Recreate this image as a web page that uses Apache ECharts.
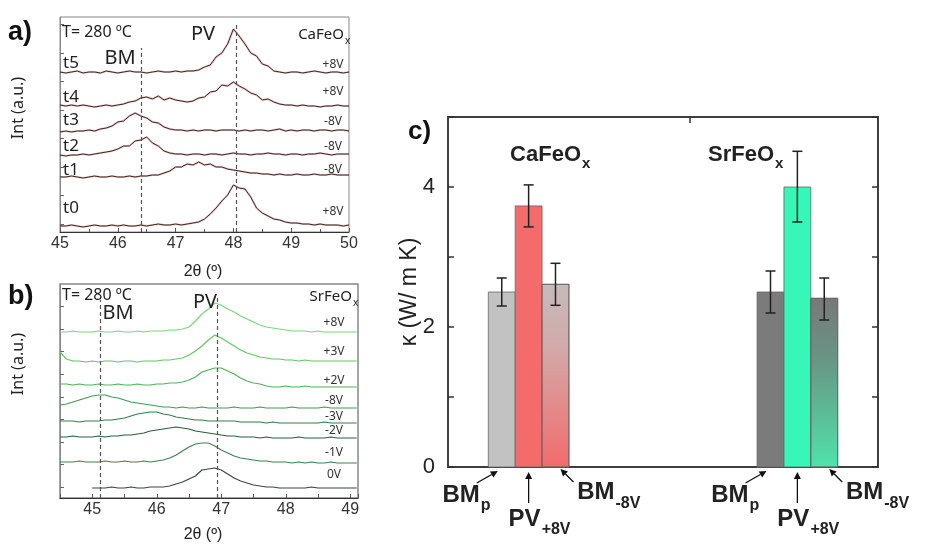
<!DOCTYPE html>
<html><head><meta charset="utf-8">
<script src="https://cdn.jsdelivr.net/npm/echarts@6/dist/echarts.min.js"></script>
<style>html,body{margin:0;padding:0;background:#fff}#c{width:943px;height:546px}</style>
</head><body><div id="c"></div><script>
// ---------- Panel a: CaFeOx XRD traces (heights in arbitrary units) ----------
const thetaA = [45.0,45.1,45.2,45.3,45.4,45.5,45.6,45.7,45.8,45.9,46.0,46.1,46.2,46.3,46.4,46.5,46.6,46.7,46.8,46.9,47.0,47.1,47.2,47.3,47.4,47.5,47.6,47.7,47.8,47.9,48.0,48.1,48.2,48.3,48.4,48.5,48.6,48.7,48.8,48.9,49.0,49.1,49.2,49.3,49.4,49.5,49.6,49.7,49.8,49.9,50.0];
const caT5 = [160,159,160,161,159,160,160,159,161,160, 159,160,161,160,160,159,160,161,160,160, 161,160,161,161,162,165,167,175,179,188, 203,196,188,179,176,168,166,161,160,159, 160,160,159,160,161,160,159,160,160,159,160];
const caT4 = [127,126,127,126,127,126,125,126,127,126, 127,128,130,131,134,135,133,136,132,134, 132,131,130,131,134,135,140,141,147,146, 150,146,143,139,137,132,133,130,128,127, 127,126,127,126,126,125,126,126,127,126,126];
const caT3 = [100,101,100,101,101,102,101,103,104,106, 110,111,116,119,116,114,110,109,105,103, 102,102,101,102,101,102,102,101,102,102, 102,101,102,101,102,102,101,102,103,101, 102,101,102,102,101,102,102,101,102,102,101];
const caT2 = [77,76,77,77,78,77,78,79,80,81, 83,86,86,91,92,95,89,86,81,79, 78,78,77,78,78,77,78,78,77,78, 79,78,78,77,78,78,79,78,78,77, 78,78,77,78,78,79,78,77,78,78,78];
const caT1 = [55,55,56,55,54,55,56,55,55,56, 55,55,56,55,56,56,57,57,59,61, 65,65,68,67,70,67,68,65,65,63, 62,61,60,59,59,58,58,57,58,57, 57,58,57,57,58,57,57,58,57,57,57];
const caT0 = [6,6,7,6,5,6,7,6,6,7, 6,7,6,6,7,6,7,8,7,7, 8,7,8,9,10,13,18,24,31,37, 47,44,43,35,24,19,16,13,12,10, 9,9,8,8,7,8,7,7,7,6,7];
const labelsA = ['t5','t4','t3','t2','t1','t0'];
const biasA = ['+8V','+8V','-8V','-8V','-8V','+8V'];
const peaksA = [46.4, 48.05];   // BM, PV reference lines
const ticksA = [8,36.5,65,93.5,122,150.5,179,207.5];

// ---------- Panel b: SrFeOx XRD traces ----------
const thetaB = [44.5,44.6,44.7,44.8,44.9,45.0,45.1,45.2,45.3,45.4,45.5,45.6,45.7,45.8,45.9,46.0,46.1,46.2,46.3,46.4,46.5,46.6,46.7,46.8,46.9,47.0,47.1,47.2,47.3,47.4,47.5,47.6,47.7,47.8,47.9,48.0,48.1,48.2,48.3,48.4,48.5,48.6,48.7,48.8,48.9,49.0,49.1];
const srP8 = [166,166,167,166,166, 166,167,166,166,167,166,166,167,166,167, 167,167,168,168,169,171,177,184,189,195, 193,189,186,182,179,176,173,171,170,169, 168,167,167,167,166,167,166,166,166,166, 166,166];
const srP3 = [146,139,137,137,136, 137,136,137,137,136,137,137,136,137,137, 137,138,138,139,140,143,147,152,158,163, 160,156,152,148,145,143,141,140,139,139, 138,138,137,138,137,137,137,137,137,137, 137,137];
const srP2 = [114,114,113,114,113, 113,114,113,113,114,113,113,114,113,113, 114,114,115,115,116,118,121,126,128,130, 130,127,124,120,117,115,114,112,111,111, 112,111,111,112,111,111,111,111,111,111, 111,111];
const srM8 = [93,94,96,98,100, 102,103,103,101,100,98,96,95,94,93, 92,91,91,90,91,90,90,91,90,90, 90,90,91,90,90,90,91,90,90,90, 90,91,90,90,90,90,91,90,90,90, 90,90];
const srM3 = [77,77,77,76,77, 77,77,78,78,79,80,82,84,85,86, 86,84,83,81,80,79,78,78,77,77, 77,77,77,76,76,76,76,75,76,75, 75,75,75,75,75,75,76,75,75,75, 75,75];
const srM2 = [61,61,62,61,61, 61,62,61,62,62,63,63,64,65,67, 68,69,70,71,70,69,67,66,65,64, 63,62,62,61,61,61,60,61,60,60, 60,60,61,60,60,60,60,61,60,60, 60,60];
const srM1 = [36,36,36,37,36, 36,36,37,36,36,37,36,36,37,36, 37,38,40,43,47,51,54,55,55,52, 48,45,42,40,39,38,37,37,36,36, 36,35,36,35,36,35,35,36,35,35, 35,35];
const sr0V = [null,null,null,null,null, 10,10,10,11,10,10,11,10,10,11, 11,11,12,14,16,19,22,28,29,30, 28,24,20,17,15,13,12,11,11,10, 10,10,10,10,11,10,10,10,10,10, 10,10];
const biasB = ['+8V','+3V','+2V','-8V','-3V','-2V','-1V','0V'];
const peaksB = [45.12, 46.94];
const ticksB = [11,34,56,79,101,124,147,169,192];

// ---------- Panel c: thermal conductivity ----------
const phases = ['BMp','PV+8V','BM-8V'];
const materials = ['CaFeOx','SrFeOx'];
const kappaCa = [2.5, 3.73, 2.61];
const kappaCaLow = [2.3, 3.43, 2.31];
const kappaCaHigh = [2.7, 4.03, 2.91];
const kappaSr = [2.5, 4.0, 2.41];
const kappaSrLow = [2.2, 3.5, 2.1];
const kappaSrHigh = [2.8, 4.51, 2.7];

// layout / styles
const slotsCa = [2,3,4], slotsSr = [12,13,14];
const LG = (stops) => new echarts.graphic.LinearGradient(0,0,0,1,stops.map(s=>({offset:s[0],color:s[1]})));
const fillsCa = ['#c2c2c2', '#f46b6b', LG([[0,'#c6baba'],[0.35,'#d3a9a9'],[1,'#f46b6b']])];
const fillsSr = ['#7b7b7b', '#36f6b8', LG([[0,'#787878'],[0.35,'#699484'],[1,'#4fe3aa']])];
const colorsB = ['#7ad67a','#62c862','#4fb359','#3f9c4f','#357f47','#2c5e3c','#3d8350','#36483c'];
const FF = 'Liberation Sans';
const FN = 'Noto Sans';

function lineSeries(g, xs, ys, color, width, z) {
  return {type:'line', xAxisIndex:g, yAxisIndex:g, data: xs.map((x,i)=>[x, ys[i]]), symbol:'none',
    showSymbol:false, lineStyle:{color, width}, itemStyle:{color}, silent:true, z, connectNulls:false, animation:false};
}
function vlineMark(list, tops) {
  return {silent:true, symbol:'none', label:{show:false}, animation:false,
    lineStyle:{type:[4,3], color:'#555', width:1.2},
    data: list.map((x,i)=>[{coord:[x,0]},{coord:[x,tops[i]]}])};
}

const series = [];
const tracesA = [caT5, caT4, caT3, caT2, caT1, caT0];
tracesA.forEach((t,i)=>{
  series.push(lineSeries(0, thetaA, t, 'rgba(190,70,70,0.3)', 2.2, 2));
  const s = lineSeries(0, thetaA, t, '#3c2626', 1, 3);
  if (i===0) s.markLine = vlineMark(peaksA, [184, 210]);
  series.push(s);
});
const tracesB = [srP8, srP3, srP2, srM8, srM3, srM2, srM1, sr0V];
tracesB.forEach((t,i)=>{
  const s = lineSeries(1, thetaB, t, colorsB[i], 1.2, 3);
  if (i===0) s.markLine = vlineMark(peaksB, [198, 200]);
  series.push(s);
});

// bars
const barData = [];
kappaCa.forEach((v,i)=>barData.push([slotsCa[i], v, 0, i]));
kappaSr.forEach((v,i)=>barData.push([slotsSr[i], v, 1, i]));
const errData = [];
kappaCa.forEach((v,i)=>errData.push([slotsCa[i], kappaCaLow[i], kappaCaHigh[i]]));
kappaSr.forEach((v,i)=>errData.push([slotsSr[i], kappaSrLow[i], kappaSrHigh[i]]));

series.push({type:'custom', xAxisIndex:2, yAxisIndex:2, data:barData, silent:true, z:3,
  renderItem:(p, api)=>{
    const x=api.value(0), y=api.value(1), m=api.value(2), k=api.value(3);
    const a=api.coord([x-0.5,y]), b=api.coord([x+0.5,0]);
    return {type:'rect', shape:{x:a[0], y:a[1], width:b[0]-a[0], height:b[1]-a[1]},
      style:{fill:(m===0?fillsCa:fillsSr)[k], stroke:'#666', lineWidth:0.8}};
  }});
series.push({type:'custom', xAxisIndex:2, yAxisIndex:2, data:errData, silent:true, z:5,
  renderItem:(p, api)=>{
    const lo=api.coord([api.value(0), api.value(1)]), hi=api.coord([api.value(0), api.value(2)]);
    const st={stroke:'#222', lineWidth:1.5}, w=5;
    return {type:'group', children:[
      {type:'line', shape:{x1:lo[0],y1:lo[1],x2:hi[0],y2:hi[1]}, style:st},
      {type:'line', shape:{x1:lo[0]-w,y1:lo[1],x2:lo[0]+w,y2:lo[1]}, style:st},
      {type:'line', shape:{x1:hi[0]-w,y1:hi[1],x2:hi[0]+w,y2:hi[1]}, style:st}]};
  }});

const axLbl = {fontSize:16, color:'#333', fontFamily:FF};
const option = {
  animation:false,
  grid:[
    {left:60, top:17, width:289, height:215, show:true, borderColor:'#888', borderWidth:1},
    {left:60, top:284, width:298, height:214, show:true, borderColor:'#888', borderWidth:1.5},
    {left:448, top:117, width:430, height:350, show:true, borderColor:'#333', borderWidth:1.5}
  ],
  xAxis:[
    {gridIndex:0, type:'value', min:45, max:50, interval:1, axisLine:{onZero:false, lineStyle:{color:'#333'}},
      axisTick:{inside:true, length:4, lineStyle:{color:'#555'}}, minorTick:{show:true, splitNumber:2, length:3, lineStyle:{color:'#555'}},
      axisLabel:Object.assign({margin:4}, axLbl), splitLine:{show:false}},
    {gridIndex:1, type:'value', min:44.5, max:49.12, interval:0.5, axisLine:{onZero:false, lineStyle:{color:'#333'}},
      axisTick:{inside:true, length:4, lineStyle:{color:'#555'}},
      axisLabel:Object.assign({margin:4, formatter:v=>Math.abs(v-Math.round(v))<1e-6?String(Math.round(v)):''}, axLbl), splitLine:{show:false}},
    {gridIndex:2, type:'value', min:0, max:16, axisLine:{onZero:false, lineStyle:{color:'#333', width:1.5}}, axisTick:{show:false}, axisLabel:{show:false}, splitLine:{show:false}},
    {gridIndex:2, type:'value', position:'top', min:0, max:16, axisLine:{onZero:false, lineStyle:{color:'#333', width:1.5}},
      axisTick:{inside:true, length:6, customValues:[9], lineStyle:{color:'#333', width:1.5}}, axisLabel:{show:false}, splitLine:{show:false}}
  ],
  yAxis:[
    {gridIndex:0, type:'value', min:0, max:215, axisLine:{show:true, onZero:false, lineStyle:{color:'#888'}},
      axisTick:{show:true, inside:true, length:4, customValues:ticksA, lineStyle:{color:'#666'}}, axisLabel:{show:false}, splitLine:{show:false}},
    {gridIndex:1, type:'value', min:0, max:214, axisLine:{show:true, onZero:false, lineStyle:{color:'#888'}},
      axisTick:{show:true, inside:true, length:4, customValues:ticksB, lineStyle:{color:'#666'}}, axisLabel:{show:false}, splitLine:{show:false}},
    {gridIndex:2, type:'value', min:0, max:5, interval:1, axisLine:{show:true, onZero:false, lineStyle:{color:'#333', width:1.5}},
      axisTick:{inside:true, length:6, lineStyle:{color:'#333', width:1.5}},
      axisLabel:{margin:13, fontSize:22, color:'#222', fontFamily:FF, formatter:v=>(v%2===0 && v<5)?String(v):''}, splitLine:{show:false}},
    {gridIndex:2, type:'value', position:'right', min:0, max:5, interval:1, axisLine:{show:true, onZero:false, lineStyle:{color:'#333', width:1.5}},
      axisTick:{inside:true, length:6, lineStyle:{color:'#333', width:1.5}}, axisLabel:{show:false}, splitLine:{show:false}}
  ],
  series
};

const chart = echarts.init(document.getElementById('c'));
chart.setOption(option);

function T(x, y, text, size, o) {
  o = o || {};
  const el = {type:'text', x, y, z:50, silent:true,
    style:{text, fontSize:size, fontFamily:o.ff||FN, fontWeight:o.fw||'normal', fill:o.fill||'#222',
      textAlign:o.align||'center', textVerticalAlign:'middle'}};
  if (o.rot) el.rotation = o.rot;
  return el;
}
function arrow(x1,y1,x2,y2){
  const ang=Math.atan2(y2-y1,x2-x1), L=7, W=3.5;
  const bx=x2-L*Math.cos(ang), by=y2-L*Math.sin(ang), px=-Math.sin(ang)*W, py=Math.cos(ang)*W;
  return [{type:'line', z:50, silent:true, shape:{x1,y1,x2:bx,y2:by}, style:{stroke:'#111', lineWidth:1.3}},
          {type:'polygon', z:50, silent:true, shape:{points:[[x2,y2],[bx+px,by+py],[bx-px,by-py]]}, style:{fill:'#111'}}];
}

const g = [];
// panel a
g.push(T(8, 33, 'a)', 27, {ff:FF, fw:'bold', align:'left', fill:'#111'}));
g.push(T(62, 32, 'T= 280 ºC', 16, {align:'left'}));
g.push(T(203, 34, 'PV', 20));
g.push(T(120, 58, 'BM', 20));
g.push(T(344, 35, 'CaFeO', 15, {align:'right'}));
g.push(T(345, 41, 'x', 10, {align:'left'}));
const tY = [63, 97, 120, 146, 170, 208];
labelsA.forEach((l,i)=>g.push(T(63, tY[i], l, 17, {align:'left'})));
const bY = [65, 92, 122, 147, 170, 212];
biasA.forEach((l,i)=>g.push(T(333, bY[i], l, 12, {fill:'#333'})));
g.push(T(18, 108, 'Int (a.u.)', 16, {rot:Math.PI/2}));
g.push(T(203, 272, '2θ (º)', 16, {ff:FF}));
// panel b
g.push(T(8, 297, 'b)', 27, {ff:FF, fw:'bold', align:'left', fill:'#111'}));
g.push(T(62, 295, 'T= 280 ºC', 16, {align:'left'}));
g.push(T(205, 302, 'PV', 20));
g.push(T(118, 313, 'BM', 20));
g.push(T(352, 297, 'SrFeO', 15, {align:'right'}));
g.push(T(353, 303, 'x', 10, {align:'left'}));
const bYB = [323, 352, 381, 401, 417, 431, 453, 475];
biasB.forEach((l,i)=>g.push(T(334, bYB[i], l, 12, {fill:'#333'})));
g.push(T(18, 364, 'Int (a.u.)', 16, {rot:Math.PI/2}));
g.push(T(203, 535, '2θ (º)', 16, {ff:FF}));
// panel c
g.push(T(408, 132, 'c)', 26, {ff:FF, fw:'bold', align:'left', fill:'#111'}));
g.push(T(410, 292, 'κ (W/ m K)', 23, {ff:FF, rot:Math.PI/2}));
g.push(T(581, 155, 'CaFeO', 22, {ff:FF, fw:'bold', align:'right'}));
g.push(T(582, 164, 'x', 15, {ff:FF, fw:'bold', align:'left'}));
g.push(T(774, 155, 'SrFeO', 22, {ff:FF, fw:'bold', align:'right'}));
g.push(T(775, 164, 'x', 15, {ff:FF, fw:'bold', align:'left'}));

const B = {ff:FF, fw:'bold'};
[slotsCa, slotsSr].forEach(slots=>{
  const p = slots.map(s=>chart.convertToPixel({gridIndex:2}, [s, 0]));
  const y0 = p[0][1];
  // BMp
  let cx = p[0][0];
  g.push(T(cx-22, y0+28, 'BM', 24, Object.assign({align:'right'}, B)));
  g.push(T(cx-21, y0+39, 'p', 16, Object.assign({align:'left'}, B)));
  g.push(...arrow(cx-25, y0+16, cx-4, y0+4));
  // PV+8V
  cx = p[1][0];
  g.push(T(cx+12, y0+52, 'PV', 24, Object.assign({align:'right'}, B)));
  g.push(T(cx+13, y0+63, '+8V', 16, Object.assign({align:'left'}, B)));
  g.push(...arrow(cx, y0+36, cx, y0+5));
  // BM-8V
  cx = p[2][0];
  g.push(T(cx+59, y0+25, 'BM', 24, Object.assign({align:'right'}, B)));
  g.push(T(cx+60, y0+37, '-8V', 16, Object.assign({align:'left'}, B)));
  g.push(...arrow(cx+18, y0+15, cx+5, y0+2));
});
chart.setOption({graphic:{elements:g}});
</script></body></html>
